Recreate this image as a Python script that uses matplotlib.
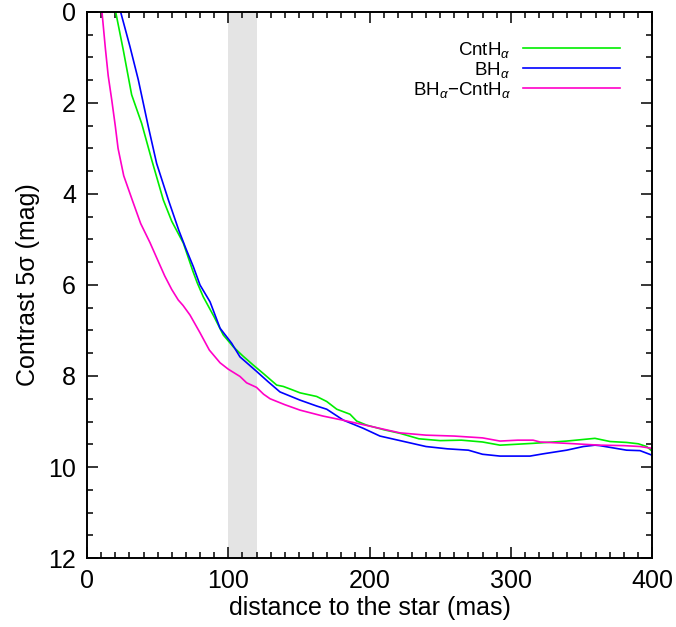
import matplotlib
matplotlib.use('Agg')
import matplotlib.pyplot as plt
from matplotlib.ticker import MultipleLocator

plt.rcParams['font.family'] = ['Liberation Sans', 'DejaVu Sans']
plt.rcParams['mathtext.fontset'] = 'custom'
plt.rcParams['mathtext.rm'] = 'Liberation Sans'
plt.rcParams['mathtext.it'] = 'Liberation Sans:italic'

# distance (mas) and contrast (mag)
cnt_x = [19.8, 20.3, 25.7, 31.6, 38.7, 45.8, 54, 60, 68.2, 75, 78, 82.3, 90, 96.5, 103.6,
         110, 117.7, 125, 134.3, 139, 145, 150.8, 162.6, 169.7, 176.8, 186.2, 190.9, 198,
         210, 221.6, 235, 250, 265, 280, 292.4, 315.8, 339.6, 359.6, 370.3, 382, 390.3,
         396.2, 400]
cnt_y = [-0.2, 0, 0.84, 1.82, 2.45, 3.25, 4.13, 4.6, 5.08, 5.7, 5.95, 6.26, 6.7, 7.1, 7.36,
         7.55, 7.76, 7.95, 8.2, 8.23, 8.3, 8.37, 8.45, 8.56, 8.73, 8.84, 8.99, 9.08,
         9.18, 9.26, 9.38, 9.42, 9.41, 9.45, 9.52, 9.48, 9.43, 9.37, 9.44, 9.46, 9.49,
         9.55, 9.65]

bh_x = [23.5, 23.8, 30.4, 36.3, 43.4, 49.3, 57.6, 65, 70, 75.3, 80, 87.1, 94.2, 102.4,
        108.3, 120.1, 128, 136.6, 150.8, 162.6, 169.7, 181.5, 195.6, 207.4, 221.6, 240,
        255, 270, 280, 292.4, 313.6, 323, 339.6, 351.4, 359.6, 363, 382, 391.5, 400]
bh_y = [-0.2, 0, 0.76, 1.49, 2.52, 3.33, 4.13, 4.8, 5.2, 5.6, 6.0, 6.37, 6.95, 7.28,
        7.58, 7.9, 8.12, 8.35, 8.53, 8.66, 8.73, 8.97, 9.15, 9.32, 9.42, 9.55,
        9.6, 9.63, 9.72, 9.76, 9.76, 9.71, 9.63, 9.55, 9.52, 9.53, 9.63, 9.64, 9.74]

diff_x = [10.0, 10.6, 13, 15, 17.5, 20, 22, 26, 32, 38, 44.6, 50, 55, 60, 64.6, 68, 72.9,
          80, 86.6, 94.2, 100, 108.3, 113, 120, 125, 129.6, 140, 150.8, 167, 181, 200,
          221.6, 240, 260, 280, 292.4, 305, 315.8, 320.7, 339.6, 363, 380, 391.5, 400]
diff_y = [-0.2, 0, 0.8, 1.4, 1.93, 2.5, 3.0, 3.6, 4.13, 4.65, 5.07, 5.45, 5.8, 6.1, 6.33,
          6.45, 6.66, 7.05, 7.43, 7.71, 7.85, 8.01, 8.15, 8.25, 8.4, 8.5, 8.63, 8.75,
          8.88, 8.97, 9.1, 9.25, 9.3, 9.32, 9.36, 9.43, 9.41, 9.41, 9.45, 9.48, 9.52,
          9.53, 9.55, 9.59]

band = (100, 120)

fig = plt.figure(figsize=(6.76, 6.27), dpi=100)
ax = fig.add_axes([0.1287, 0.110, 0.8358, 0.871])

ax.axvspan(band[0], band[1], color='#e4e4e4', lw=0, zorder=0)
ax.plot(cnt_x, cnt_y, color='#00ee00', lw=1.2, label=r'CntH$_\alpha$')
ax.plot(bh_x, bh_y, color='#0000ff', lw=1.2, label=r'BH$_\alpha$')
ax.plot(diff_x, diff_y, color='#ff00c8', lw=1.2, label=r'BH$_\alpha$$-$CntH$_\alpha$')

ax.set_xlim(0, 400)
ax.set_ylim(12, 0)
ax.xaxis.set_major_locator(MultipleLocator(100))
ax.xaxis.set_minor_locator(MultipleLocator(10))
ax.yaxis.set_major_locator(MultipleLocator(2))
ax.yaxis.set_minor_locator(MultipleLocator(0.5))
ax.tick_params(which='both', direction='in', top=True, right=True, width=1.1)
ax.tick_params(which='major', length=8, labelsize=18, pad=8)
ax.tick_params(which='minor', length=4)
for s in ax.spines.values():
    s.set_linewidth(1.4)

ax.set_xlabel('distance to the star (mas)', fontsize=18, labelpad=2)
ax.set_ylabel('Contrast 5σ (mag)', fontsize=18, labelpad=6)

# legend: labels on the left, line samples on the right
ax.legend(loc='upper right', bbox_to_anchor=(1, 1.0075), frameon=False,
          markerfirst=False, fontsize=13.5, handlelength=5.2,
          handletextpad=0.65, labelspacing=0.0, borderaxespad=1.3)

fig.savefig('out.png', dpi=100)
